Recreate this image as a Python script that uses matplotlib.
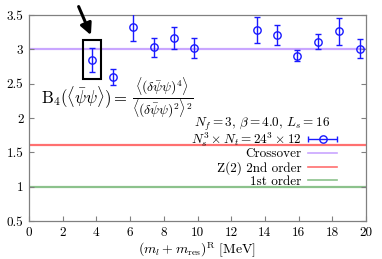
import numpy as np
import matplotlib
matplotlib.use("Agg")
import matplotlib.pyplot as plt
from matplotlib.patches import Rectangle
from matplotlib.lines import Line2D
from matplotlib.legend_handler import HandlerErrorbar
from matplotlib.container import ErrorbarContainer

plt.rcParams['font.family'] = 'serif'
plt.rcParams['font.serif'] = ['cmr10', 'DejaVu Serif']
plt.rcParams['mathtext.fontset'] = 'cm'
plt.rcParams['axes.formatter.use_mathtext'] = True

# data
mass = [3.76, 5.0, 6.19, 7.42, 8.6, 9.79, 13.51, 14.74, 15.92, 17.15, 18.4, 19.63]
b4 = [2.845, 2.595, 3.33, 3.03, 3.165, 3.02, 3.28, 3.21, 2.91, 3.11, 3.26, 3.01]
b4_err = [0.17, 0.115, 0.21, 0.135, 0.16, 0.14, 0.19, 0.14, 0.085, 0.11, 0.19, 0.14]
ref_values = [3.0, 1.604, 1.0]
ref_labels = ['Crossover', 'Z(2) 2nd order', '1st order']
ref_colors = ['#c9a6ff', '#ff7070', '#8cc28c']
xticks = [0, 2, 4, 6, 8, 10, 12, 14, 16, 18, 20]
yticks = [0.5, 1, 1.5, 2, 2.5, 3, 3.5]

W, H = 382, 259
fig = plt.figure(figsize=(W / 100, H / 100), dpi=100)
ax = fig.add_axes([29 / W, 1 - 221 / H, 337 / W, 206 / H])

fs = 9.5
ax.set_xlim(0, 20)
ax.set_ylim(0.5, 3.5)

for v, c in zip(ref_values, ref_colors):
    ax.axhline(v, color=c, lw=1.6, zorder=1)

ax.errorbar(mass, b4, yerr=b4_err, fmt='o', color='#1a1aff', mfc='none',
            ms=5.3, mew=1.0, elinewidth=1.0, capsize=2.3, capthick=1.0, zorder=3)

# legend: data entry
eb_h = ax.errorbar([np.nan], [np.nan], xerr=[np.nan], fmt='o', color='#1a1aff',
                   mfc='none', ms=5.3, mew=1.0, elinewidth=1.0, capsize=2.3, capthick=1.0)
leg_common = dict(frameon=False, markerfirst=False, fontsize=fs, borderpad=0,
                  borderaxespad=0, handlelength=2.2, handletextpad=0.5)
leg1 = ax.legend([eb_h], [r'$N_s^3\times N_t=24^3\times 12$'], loc='center right',
                 bbox_to_anchor=(0.914, (221 - 140) / 206),
                 handler_map={ErrorbarContainer: HandlerErrorbar(xerr_size=1.1)},
                 **leg_common)
ax.add_artist(leg1)
line_handles = [Line2D([], [], color=c, lw=1.2) for c in ref_colors]
leg2 = ax.legend(line_handles, ref_labels, loc='center right',
                 bbox_to_anchor=(0.914, (221 - 168) / 206), labelspacing=0.05,
                 **leg_common)

ax.text(17.85, 1.90, r'$N_f=3,\,\beta=4.0,\,L_s=16$', ha='right', va='center', fontsize=fs)

t_lhs = ax.text(0.72, 2.30, r'$\mathrm{B}_4(\langle\bar\psi\psi\rangle)=$',
                ha='left', va='center', fontsize=12)
ax.annotate(r'$\dfrac{\langle(\delta\bar\psi\psi)^4\rangle}{\langle(\delta\bar\psi\psi)^2\rangle^2}$',
            xy=(1.0, 0.5), xycoords=t_lhs, xytext=(3, 0), textcoords='offset points',
            ha='left', va='center', fontsize=9.8)

# highlight box and arrow
ax.add_patch(Rectangle((3.18, 2.57), 1.08, 0.57, fill=False, ec='k', lw=1.5, zorder=4))
ax.annotate('', xy=(3.74, 3.17), xytext=(2.88, 3.66), xycoords='data',
            arrowprops=dict(arrowstyle='-|>', lw=2.2, color='k', mutation_scale=17),
            annotation_clip=False, zorder=5)

ax.set_xticks(xticks)
ax.set_yticks(yticks)
ax.set_xticklabels([str(t) for t in xticks], fontsize=fs)
ax.set_yticklabels([('%g' % t) for t in yticks], fontsize=fs)
ax.tick_params(direction='in', length=3.5, width=0.8, color='#808080', right=True, top=False, pad=4)
for s in ax.spines.values():
    s.set_color('#808080')
    s.set_linewidth(0.9)

ax.set_xlabel(r'$(m_l+m_{\rm res})^{\rm R}$ [MeV]', fontsize=10, labelpad=1.5)

fig.savefig('out.png', dpi=100)
